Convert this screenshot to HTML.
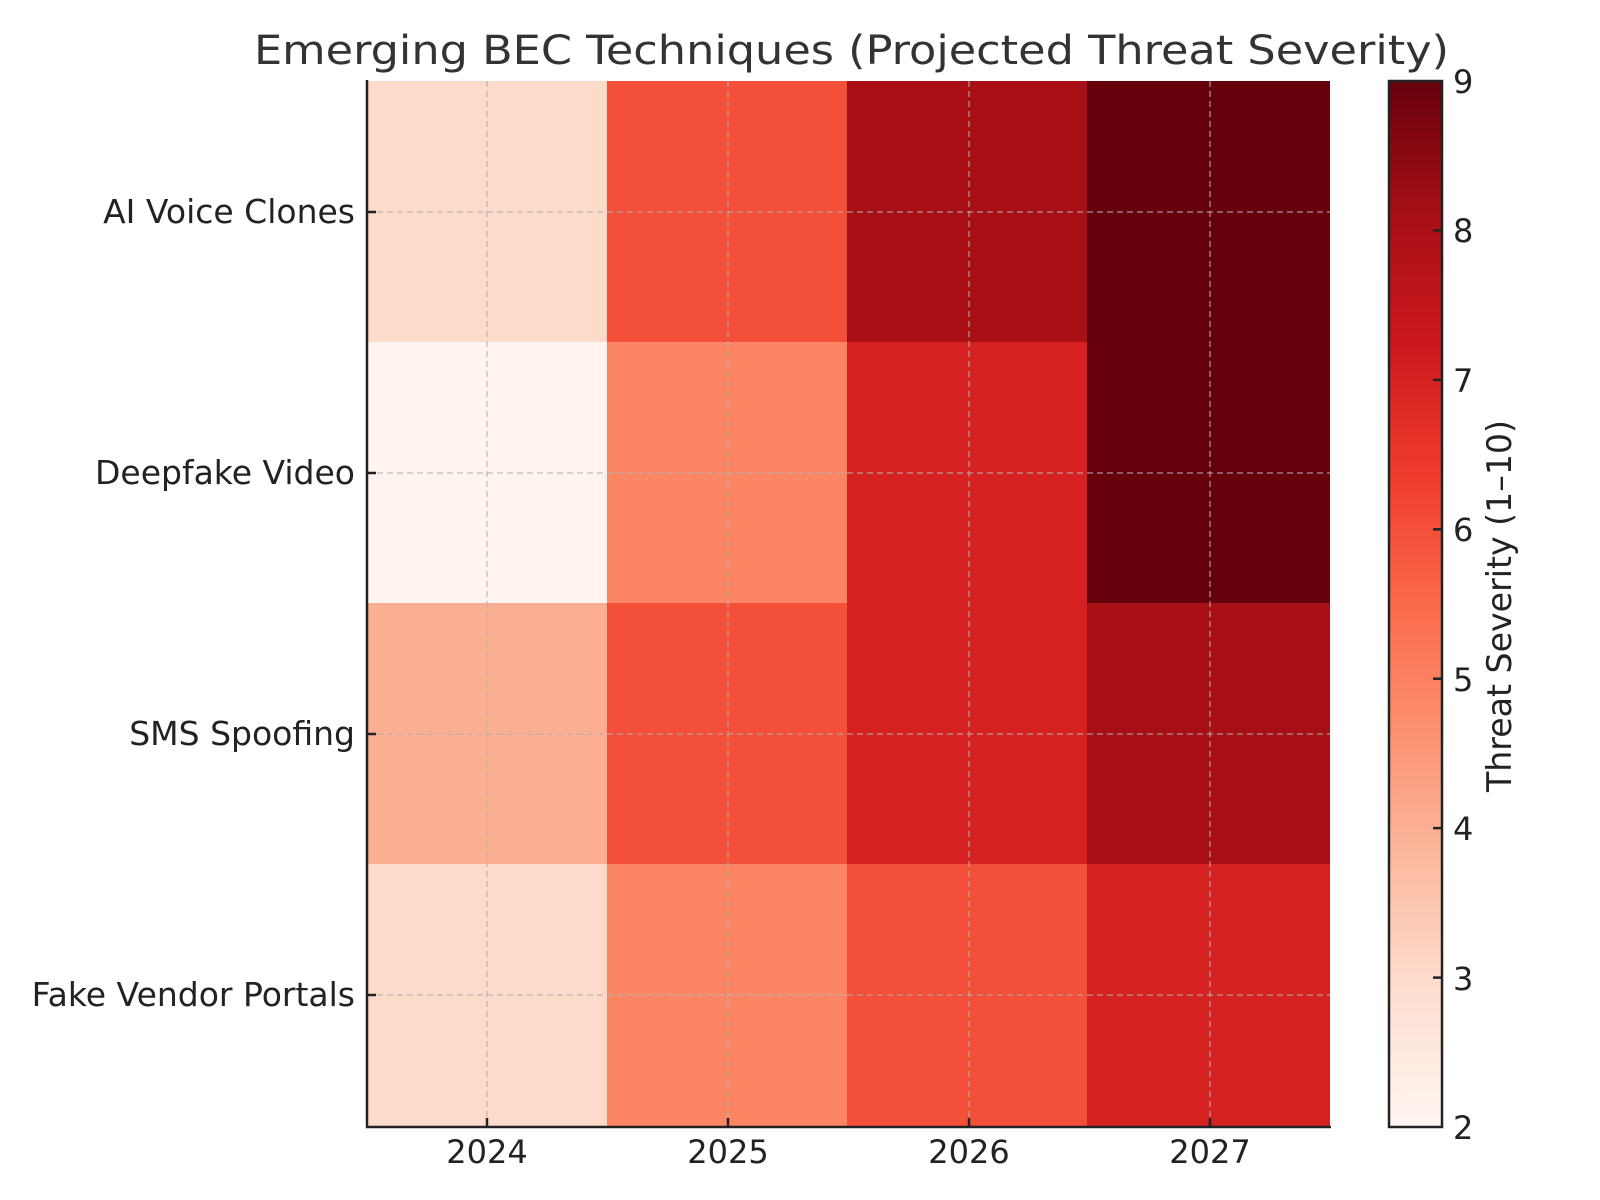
<!DOCTYPE html>
<html><head><meta charset="utf-8"><style>body{margin:0;background:#fff}svg{display:block}</style></head>
<body>
<svg width="1600" height="1200" xmlns="http://www.w3.org/2000/svg" font-family="DejaVu Sans, Liberation Sans, sans-serif">
<defs>
<linearGradient id="cb" x1="0" y1="1" x2="0" y2="0">
<stop offset="0" stop-color="#fff5f0"/><stop offset="0.125" stop-color="#fee0d2"/><stop offset="0.25" stop-color="#fcbba1"/><stop offset="0.375" stop-color="#fc9272"/><stop offset="0.5" stop-color="#fb6a4a"/><stop offset="0.625" stop-color="#ef3b2c"/><stop offset="0.75" stop-color="#cb181d"/><stop offset="0.875" stop-color="#a50f15"/><stop offset="1" stop-color="#67000d"/>
</linearGradient>
</defs>
<text x="254" y="64" font-size="40" fill="#333" textLength="1195" lengthAdjust="spacingAndGlyphs">Emerging BEC Techniques (Projected Threat Severity)</text>
<g>
<rect x="367" y="81" width="241" height="262" fill="#fcdbcb"/>
<rect x="607" y="81" width="241" height="262" fill="#f44f39"/>
<rect x="847" y="81" width="241" height="262" fill="#a91016"/>
<rect x="1087" y="81" width="243" height="262" fill="#67000d"/>
<rect x="367" y="342" width="241" height="262" fill="#fff4ef"/>
<rect x="607" y="342" width="241" height="262" fill="#fc8664"/>
<rect x="847" y="342" width="241" height="262" fill="#d52221"/>
<rect x="1087" y="342" width="243" height="262" fill="#67000d"/>
<rect x="367" y="603" width="241" height="262" fill="#fcae92"/>
<rect x="607" y="603" width="241" height="262" fill="#f44f39"/>
<rect x="847" y="603" width="241" height="262" fill="#d52221"/>
<rect x="1087" y="603" width="243" height="262" fill="#a91016"/>
<rect x="367" y="864" width="241" height="262" fill="#fcdbcb"/>
<rect x="607" y="864" width="241" height="262" fill="#fc8664"/>
<rect x="847" y="864" width="241" height="262" fill="#f44f39"/>
<rect x="1087" y="864" width="243" height="262" fill="#d52221"/>
</g>
<g stroke="#b0b0b0" stroke-opacity="0.7" stroke-width="1.5" stroke-dasharray="6,4">
<line x1="487" y1="81" x2="487" y2="1126"/><line x1="728" y1="81" x2="728" y2="1126"/><line x1="969" y1="81" x2="969" y2="1126"/><line x1="1210" y1="81" x2="1210" y2="1126"/>
<line x1="367" y1="212" x2="1330" y2="212"/><line x1="367" y1="473" x2="1330" y2="473"/><line x1="367" y1="734" x2="1330" y2="734"/><line x1="367" y1="995" x2="1330" y2="995"/>
</g>
<g stroke="#222" stroke-width="2.5" fill="none">
<line x1="367" y1="80" x2="367" y2="1127"/><line x1="366" y1="1127" x2="1331" y2="1127"/>
<line x1="367" y1="212" x2="376" y2="212"/><line x1="367" y1="473" x2="376" y2="473"/><line x1="367" y1="734" x2="376" y2="734"/><line x1="367" y1="995" x2="376" y2="995"/>
<line x1="487" y1="1127" x2="487" y2="1118"/><line x1="728" y1="1127" x2="728" y2="1118"/><line x1="969" y1="1127" x2="969" y2="1118"/><line x1="1210" y1="1127" x2="1210" y2="1118"/>
</g>
<g font-size="33" fill="#222" text-anchor="end">
<text x="355" y="223">AI Voice Clones</text><text x="355" y="484">Deepfake Video</text><text x="355" y="745">SMS Spoofing</text><text x="355" y="1006">Fake Vendor Portals</text>
</g>
<g font-size="32" fill="#222" text-anchor="middle">
<text x="487" y="1163">2024</text><text x="728" y="1163">2025</text><text x="969" y="1163">2026</text><text x="1210" y="1163">2027</text>
</g>
<rect x="1389" y="81" width="53" height="1046" fill="url(#cb)" stroke="#222" stroke-width="2.5"/>
<g stroke="#222" stroke-width="2.5">
<line x1="1433" y1="977.6" x2="1442" y2="977.6"/><line x1="1433" y1="828.1" x2="1442" y2="828.1"/><line x1="1433" y1="678.7" x2="1442" y2="678.7"/><line x1="1433" y1="529.3" x2="1442" y2="529.3"/><line x1="1433" y1="379.9" x2="1442" y2="379.9"/><line x1="1433" y1="230.4" x2="1442" y2="230.4"/>
</g>
<g font-size="32" fill="#222">
<text x="1453" y="1139">2</text><text x="1453" y="990">3</text><text x="1453" y="840">4</text><text x="1453" y="691">5</text><text x="1453" y="541">6</text><text x="1453" y="392">7</text><text x="1453" y="242">8</text><text x="1453" y="93">9</text>
</g>
<text transform="translate(1511,792) rotate(-90)" font-size="34" fill="#222" textLength="372" lengthAdjust="spacingAndGlyphs">Threat Severity (1–10)</text>
</svg>
</body></html>
